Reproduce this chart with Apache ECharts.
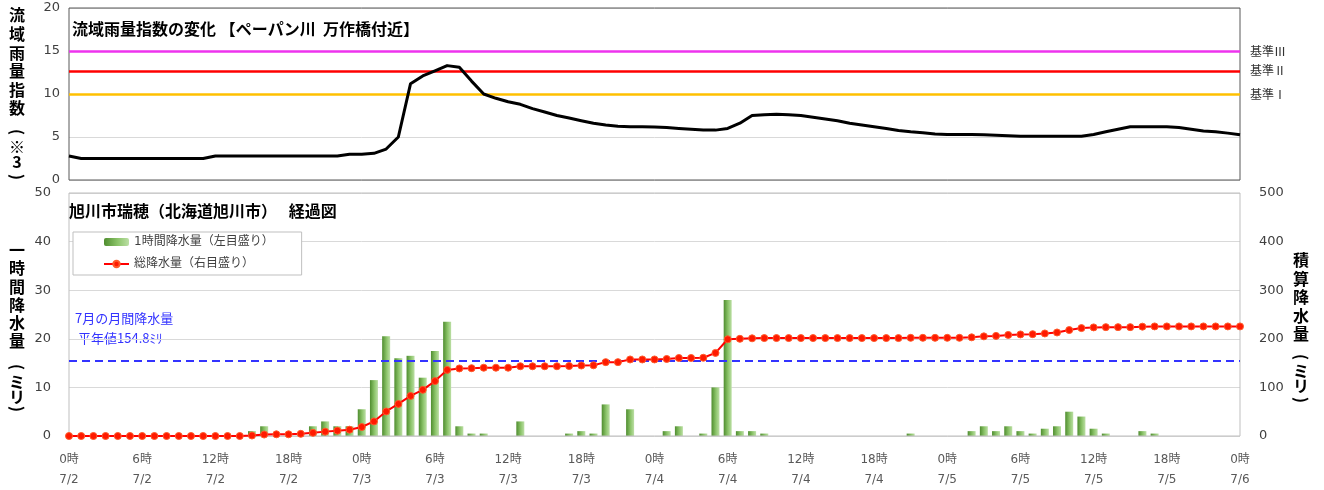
<!DOCTYPE html>
<html><head><meta charset="utf-8">
<script src="https://cdn.jsdelivr.net/npm/echarts@6/dist/echarts.min.js"></script>
<style>html,body{margin:0;padding:0;background:#fff}#c{width:1324px;height:490px}</style>
</head><body><div id="c"></div>
<script>
// ---- data ----
const hours = Array.from({length: 97}, (_, i) => i); // 7/2 0時 .. 7/6 0時, hourly
const xTickLabels = ['0時\n7/2','6時\n7/2','12時\n7/2','18時\n7/2','0時\n7/3','6時\n7/3','12時\n7/3','18時\n7/3','0時\n7/4','6時\n7/4','12時\n7/4','18時\n7/4','0時\n7/5','6時\n7/5','12時\n7/5','18時\n7/5','0時\n7/6'];
const rainIndex = [2.8,2.5,2.5,2.5,2.5,2.5,2.5,2.5,2.5,2.5,2.5,2.5,
  2.8,2.8,2.8,2.8,2.8,2.8,2.8,2.8,2.8,2.8,2.8,3.0,
  3.0,3.1,3.6,5.0,11.2,12.1,12.7,13.3,13.1,11.5,10.0,9.5,
  9.1,8.8,8.3,7.9,7.5,7.2,6.9,6.6,6.4,6.25,6.2,6.2,
  6.15,6.1,6.0,5.9,5.8,5.8,6.0,6.6,7.5,7.6,7.65,7.6,
  7.5,7.3,7.1,6.9,6.6,6.4,6.2,6.0,5.75,5.6,5.5,5.35,
  5.3,5.3,5.3,5.25,5.2,5.15,5.1,5.1,5.1,5.1,5.1,5.1,
  5.3,5.6,5.9,6.2,6.2,6.2,6.2,6.1,5.9,5.7,5.6,5.45,5.25];
const baseLevels = [15, 12.7, 10];
const baseNames = ['基準Ⅲ', '基準Ⅱ', '基準Ⅰ'];
const baseColors = ['#ee33ee', '#ff0000', '#ffc000'];
const hourlyRain = [0,0,0,0,0,0,0,0,0,0,0,0,
  0,0,0,1,2,0,0,0,2,3,2,2,
  5.5,11.5,20.5,16,16.5,12,17.5,23.5,2,0.5,0.5,0,
  0,3,0,0,0,0.5,1,0.5,6.5,0,5.5,0,
  0,1,2,0,0.5,10,28,1,1,0.5,0,0,
  0,0,0,0,0,0,0,0,0,0.5,0,0,
  0,0,1,2,1,2,1,0.5,1.5,2,5,4,
  1.5,0.5,0,0,1,0.5,0,0,0,0,0,0,0];
const totalRain = [0,0,0,0,0,0,0,0,0,0,0,0,
  0,0,0,1,3,3.5,3.5,4.5,6.5,9,11,13,
  18.5,30,50.5,66,82.5,95,113,136,139,139.5,140.5,140.5,
  140.5,143.5,143.5,143.5,143.5,144,145,145.5,152,152,157.5,157.5,
  157.5,158.5,160.5,160.5,161,171,199,200,201,201.5,201.5,201.5,
  201.5,201.5,201.5,201.5,201.5,201.5,201.5,201.5,201.5,202,202,202,
  202,202,203,205,206,208,209,209.5,211,213,218,222,
  223.5,224,224,224,225,225.5,225.5,225.5,225.5,225.5,225.5,225.5,225.5];
const normalJuly = 154.8;

// ---- chart ----
const NUM = '"DejaVu Sans","Noto Sans CJK JP",sans-serif';
const CJK = '"Noto Sans CJK JP",sans-serif';
const chart = echarts.init(document.getElementById('c'));
const barGrad = new echarts.graphic.LinearGradient(0, 0, 1, 0, [
  {offset: 0, color: '#4f8d2f'}, {offset: 0.55, color: '#8cc46a'}, {offset: 1, color: '#bcdfa5'}]);

const vText = (x, y, t, lh) => ({type: 'text', x: x, y: y,
  style: {text: t, align: 'center', lineHeight: lh, fill: '#000', font: 'bold 16px ' + CJK}});
const paren = (x, y, ch) => ({type: 'text', x: x, y: y, rotation: -Math.PI / 2,
  style: {text: ch, align: 'center', verticalAlign: 'middle', fill: '#000', font: 'bold 16px ' + CJK}});

chart.setOption({
  animation: false,
  textStyle: {fontFamily: NUM},
  title: [
    {text: '流域雨量指数の変化 【ペーパン川  万作橋付近】', left: 72, top: 21, padding: 0,
     textStyle: {fontFamily: CJK, fontSize: 16, fontWeight: 'bold', color: '#000'}},
    {text: '旭川市瑞穂（北海道旭川市）　 経過図', left: 69, top: 203, padding: 0,
     textStyle: {fontFamily: CJK, fontSize: 16, fontWeight: 'bold', color: '#000'}}
  ],
  legend: {
    left: 73, top: 232, orient: 'vertical',
    padding: [4, 28, 5, 30], itemGap: 10, itemWidth: 25, itemHeight: 8,
    borderColor: '#bfbfbf', borderWidth: 1, backgroundColor: '#fff',
    textStyle: {fontFamily: NUM, fontSize: 12, color: '#404040'},
    data: ['1時間降水量（左目盛り）', '総降水量（右目盛り）']
  },
  grid: [
    {left: 69, right: 84, top: 8, height: 172, show: true, z: 3, borderColor: '#595959', borderWidth: 1, backgroundColor: 'transparent'},
    {left: 69, right: 84, top: 193, height: 244, show: true, z: 3, borderColor: '#bfbfbf', borderWidth: 1, backgroundColor: 'transparent'}
  ],
  xAxis: [
    {gridIndex: 0, type: 'category', data: hours, boundaryGap: false,
     axisLine: {show: false}, axisTick: {show: false}, axisLabel: {show: false}, splitLine: {show: false}},
    {gridIndex: 1, type: 'category', data: hours, boundaryGap: false,
     axisLine: {show: false}, axisTick: {show: false}, splitLine: {show: false},
     axisLabel: {interval: 5, margin: 14, lineHeight: 20, fontSize: 12, color: '#595959', fontFamily: NUM,
       formatter: (v, i) => xTickLabels[i / 6]}}
  ],
  yAxis: [
    {gridIndex: 0, type: 'value', min: 0, max: 20, interval: 5,
     axisLine: {show: false}, axisTick: {show: false},
     axisLabel: {margin: 9, fontSize: 13, color: '#404040'},
     splitLine: {lineStyle: {color: '#d9d9d9', width: 1}}},
    {gridIndex: 1, type: 'value', min: 0, max: 50, interval: 10,
     axisLine: {show: false}, axisTick: {show: false},
     axisLabel: {margin: 18, fontSize: 13, color: '#404040'},
     splitLine: {lineStyle: {color: '#d9d9d9', width: 1}}},
    {gridIndex: 1, type: 'value', min: 0, max: 500, interval: 100, position: 'right',
     axisLine: {show: false}, axisTick: {show: false},
     axisLabel: {margin: 19, fontSize: 13, color: '#404040'},
     splitLine: {show: false}}
  ],
  series: [
    {type: 'line', name: '流域雨量指数', xAxisIndex: 0, yAxisIndex: 0, data: rainIndex,
     symbol: 'none', z: 6,
     lineStyle: {color: '#000', width: 3, join: 'round'}, itemStyle: {color: '#000'},
     markLine: {silent: true, symbol: 'none', animation: false,
       data: baseLevels.map((v, k) => ({yAxis: v, lineStyle: {color: baseColors[k], width: 2.5, type: 'solid'},
         label: {show: true, position: 'end', distance: 10, formatter: baseNames[k],
           fontFamily: CJK, fontSize: 12, color: '#333'}}))}},
    {type: 'bar', name: '1時間降水量（左目盛り）', xAxisIndex: 1, yAxisIndex: 1, data: hourlyRain,
     barWidth: 8, itemStyle: {color: barGrad}},
    {type: 'line', name: '総降水量（右目盛り）', xAxisIndex: 1, yAxisIndex: 2, data: totalRain,
     symbol: 'circle', symbolSize: 7, z: 6,
     lineStyle: {color: '#ff0000', width: 2}, itemStyle: {color: '#ff1a00', borderColor: '#ff5a2a', borderWidth: 1},
     markLine: {silent: true, symbol: 'none', animation: false, label: {show: false},
       lineStyle: {color: '#3333ff', width: 2, type: [8, 5]},
       data: [{yAxis: normalJuly}]}}
  ],
  graphic: [
    {type: 'text', left: 75, top: 312, style: {text: '7月の月間降水量', fill: '#3333ff', font: '13px ' + CJK}},
    {type: 'text', left: 78, top: 332, style: {text: '平年値154.8ﾐﾘ', fill: '#3333ff', font: '13px ' + CJK}},
    vText(17, 6, '流\n域\n雨\n量\n指\n数', 18.6),
    paren(17, 132, '('),
    vText(17, 139, '※\n3', 15.5),
    paren(17, 177, ')'),
    vText(17, 241, '一\n時\n間\n降\n水\n量', 18.2),
    paren(17, 367, '('),
    vText(17, 374, 'ミ\nリ', 15),
    paren(17, 409, ')'),
    vText(1301, 251, '積\n算\n降\n水\n量', 18.5),
    paren(1301, 357, '('),
    vText(1301, 364, 'ミ\nリ', 14.5),
    paren(1301, 400, ')')
  ]
});
</script></body></html>
